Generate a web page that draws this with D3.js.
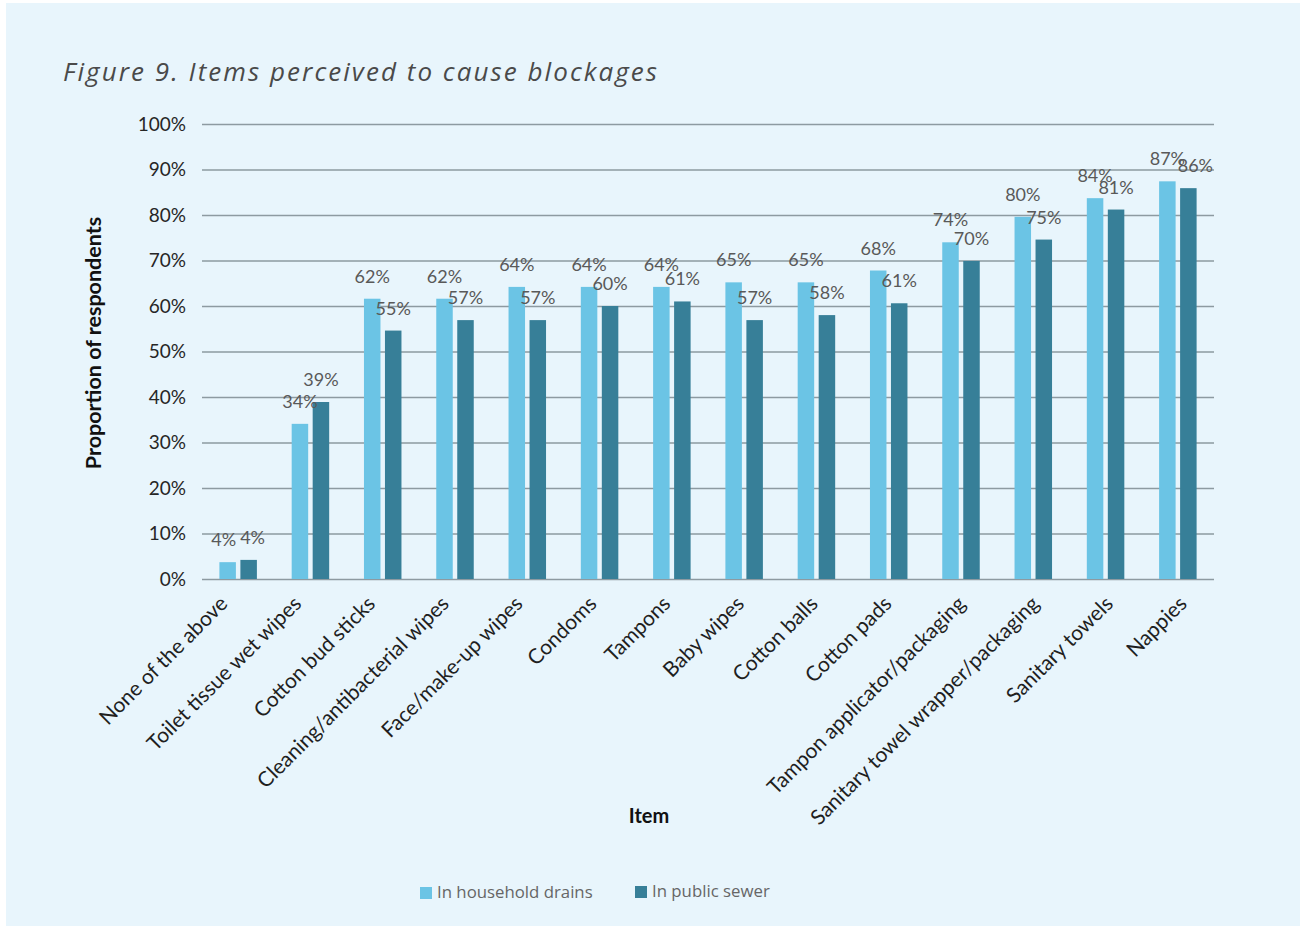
<!DOCTYPE html>
<html>
<head>
<meta charset="utf-8">
<script src="https://cdn.jsdelivr.net/npm/d3@7"></script>
<style>
  html, body { margin: 0; padding: 0; background: #ffffff; }
  svg { display: block; }
</style>
</head>
<body>
<svg id="chart" width="1300" height="926"></svg>
<script>
// Items perceived to cause blockages (% of respondents)
const categories = [
  "None of the above", "Toilet tissue wet wipes", "Cotton bud sticks",
  "Cleaning/antibacterial wipes", "Face/make-up wipes", "Condoms", "Tampons",
  "Baby wipes", "Cotton balls", "Cotton pads", "Tampon applicator/packaging",
  "Sanitary towel wrapper/packaging", "Sanitary towels", "Nappies"
];
const seriesNames = ["In household drains", "In public sewer"];
const householdDrains = [3.7, 34.1, 61.6, 61.6, 64.2, 64.2, 64.2, 65.2, 65.2, 67.8, 74.0, 79.6, 83.7, 87.4];
const publicSewer     = [4.2, 38.9, 54.6, 56.9, 56.9, 60.0, 61.0, 56.9, 58.0, 60.6, 69.9, 74.6, 81.2, 85.9];
const yTicks = [0, 10, 20, 30, 40, 50, 60, 70, 80, 90, 100];

const colors = { "In household drains": "#6bc4e5", "In public sewer": "#377f98" };

const svg = d3.select("#chart");
const W = 1300, H = 926;

// panel background
svg.append("rect").attr("x", 6).attr("y", 3).attr("width", W - 6).attr("height", H - 3)
  .attr("fill", "#e8f5fc");

// title
svg.append("text")
  .attr("x", 63).attr("y", 81)
  .attr("font-family", "'Open Sans', sans-serif")
  .attr("font-style", "italic")
  .attr("font-weight", 400)
  .attr("font-size", 26)
  .attr("letter-spacing", 2.05)
  .attr("fill", "#4a4a4a")
  .text("Figure 9. Items perceived to cause blockages");

const plot = { left: 202, right: 1214, top: 124, bottom: 579 };

const x0 = d3.scaleBand().domain(categories).range([plot.left, plot.right]).padding(0);
const x1 = d3.scaleBand().domain(seriesNames).range([-18.75, 18.75]).paddingInner(0.214);
const y = d3.scaleLinear().domain([0, 100]).range([plot.bottom, plot.top]);
// rotated category labels are spread a little wider than the bar groups
const xLabel = d3.scaleBand().domain(categories).range([192, 1225]).padding(0);

// gridlines + y tick labels
const yAxis = d3.axisLeft(y).tickValues(yTicks).tickSize(-(plot.right - plot.left))
  .tickPadding(16).tickFormat(d => d + "%");
const gy = svg.append("g").attr("transform", `translate(${plot.left},0)`).call(yAxis);
gy.select(".domain").remove();
gy.selectAll(".tick line").attr("stroke", "#8d9aa1").attr("stroke-width", 1.3);
gy.selectAll(".tick text")
  .attr("font-family", "Lato, sans-serif").attr("font-size", 19)
  .attr("fill", "#262626");

// bars
const rows = categories.map((c, i) => ({
  cat: c,
  vals: [
    { s: seriesNames[0], v: householdDrains[i] },
    { s: seriesNames[1], v: publicSewer[i] }
  ]
}));

const groups = svg.append("g").selectAll("g").data(rows).join("g")
  .attr("transform", d => `translate(${x0(d.cat) + x0.bandwidth() / 2},0)`);

groups.selectAll("rect").data(d => d.vals).join("rect")
  .attr("x", d => x1(d.s))
  .attr("width", x1.bandwidth())
  .attr("y", d => y(d.v))
  .attr("height", d => y(0) - y(d.v))
  .attr("fill", d => colors[d.s]);

// value labels
const fmt = d3.format(".0%");
groups.each(function (d) {
  const g = d3.select(this);
  const labels = d.vals.map(v => g.append("text")
    .attr("x", x1(v.s) + x1.bandwidth() / 2)
    .attr("y", y(v.v) - 16)
    .attr("text-anchor", "middle")
    .attr("font-family", "Lato, sans-serif")
    .attr("font-size", 18)
    .attr("fill", "#595959")
    .text(fmt(v.v / 100)));
  // push apart labels that sit at nearly the same height and collide
  const dy = Math.abs(y(d.vals[0].v) - y(d.vals[1].v));
  const w0 = labels[0].node().getComputedTextLength();
  const w1 = labels[1].node().getComputedTextLength();
  const c0 = x1(d.vals[0].s) + x1.bandwidth() / 2;
  const c1 = x1(d.vals[1].s) + x1.bandwidth() / 2;
  const overlap = (w0 + w1) / 2 + 4 - (c1 - c0);
  if (overlap > 0 && dy < 4) {
    labels[0].attr("x", c0 - overlap / 2);
    labels[1].attr("x", c1 + overlap / 2);
  } else if (overlap > 0 && dy < 10) {
    labels[1].attr("x", c1 + 7);
  }
});

// x category labels
svg.append("g").selectAll("text").data(categories).join("text")
  .attr("transform", d => `translate(${xLabel(d) + xLabel.bandwidth() / 2},${plot.bottom + 26}) rotate(-45)`)
  .attr("text-anchor", "end")
  .attr("font-family", "Lato, sans-serif")
  .attr("font-size", 21)
  .attr("fill", "#1f1f1f")
  .text(d => d);

// axis titles
svg.append("text")
  .attr("transform", `translate(101,343) rotate(-90)`)
  .attr("text-anchor", "middle")
  .attr("font-family", "Lato, sans-serif")
  .attr("font-weight", "bold")
  .attr("font-size", 21.5)
  .attr("fill", "#111")
  .text("Proportion of respondents");

svg.append("text")
  .attr("x", 649).attr("y", 823)
  .attr("text-anchor", "middle")
  .attr("font-family", "Lato, sans-serif")
  .attr("font-weight", "bold")
  .attr("font-size", 20)
  .attr("fill", "#111")
  .text("Item");

// legend
const legendPos = [{ x: 420, y: 887 }, { x: 635, y: 886 }];
const lg = svg.append("g").selectAll("g").data(seriesNames).join("g")
  .attr("transform", (d, i) => `translate(${legendPos[i].x},${legendPos[i].y})`);
lg.append("rect").attr("width", 12).attr("height", 12).attr("fill", d => colors[d]);
lg.append("text")
  .attr("x", 17).attr("y", 11)
  .attr("font-family", "'Open Sans', sans-serif")
  .attr("font-size", 16.8)
  .attr("fill", "#666")
  .text(d => d);
</script>
</body>
</html>
